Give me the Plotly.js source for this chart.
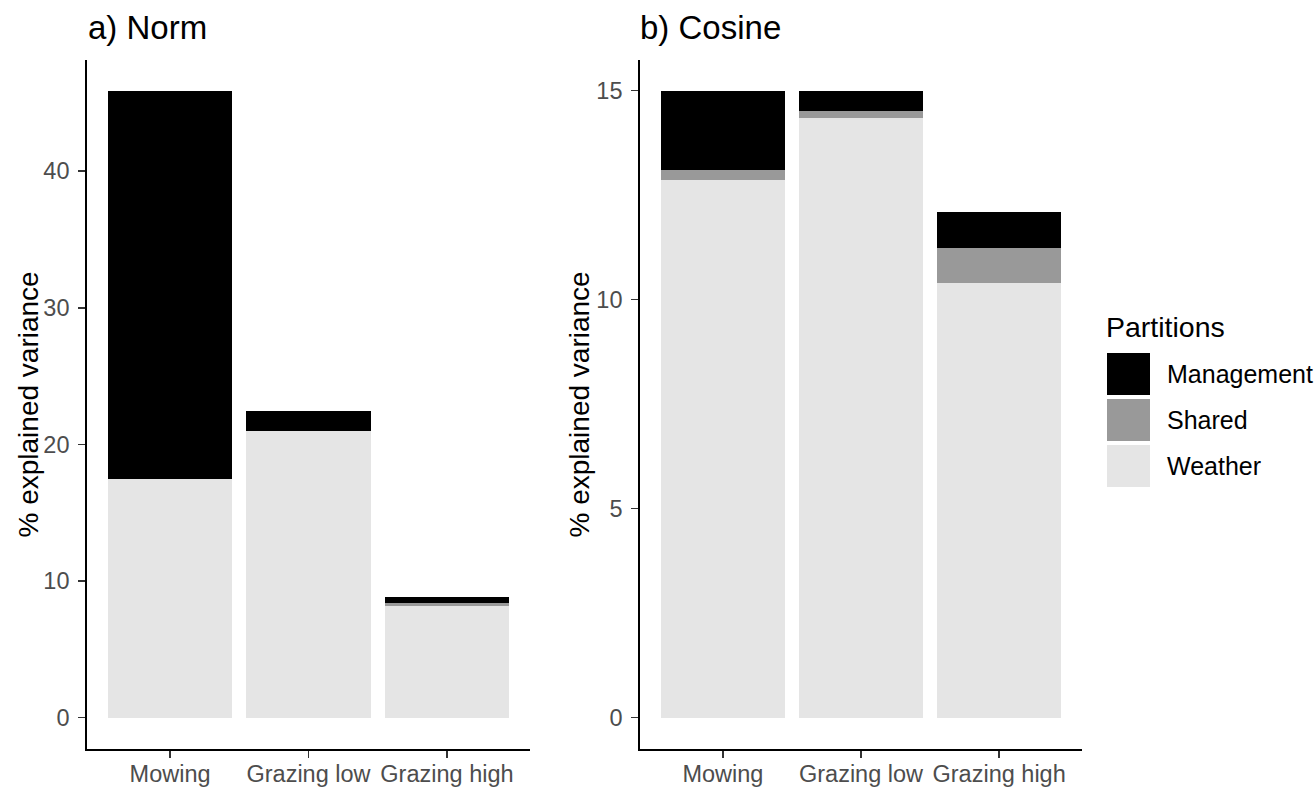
<!DOCTYPE html>
<html>
<head>
<meta charset="utf-8">
<script src="https://cdn.plot.ly/plotly-3.0.1.min.js"></script>
<style>html,body{margin:0;padding:0;background:#fff;}#chart{width:1314px;height:787px;}</style>
</head>
<body>
<div id="chart"></div>
<script>
// ---- data ----
const categories = ["Mowing", "Grazing low", "Grazing high"];
const partitions = ["Management", "Shared", "Weather"];
const normWeather = [17.45, 20.95, 8.2];
const normShared = [0.0, 0.0, 0.17];
const normManagement = [28.4, 1.47, 0.44];
const cosWeather = [12.87, 14.35, 10.39];
const cosShared = [0.24, 0.15, 0.85];
const cosManagement = [1.87, 0.48, 0.86];
const panelTitles = ["a) Norm", "b) Cosine"];
const yTitle = "% explained variance";
const legendTitle = "Partitions";

// ---- styling ----
const W = 1314, H = 787;
const FONT = "Liberation Sans, Arial, sans-serif";
const colors = {Management: "#000000", Shared: "#999999", Weather: "#E5E5E5"};
const px = v => v / W;
const py = v => 1 - v / H;

function barTrace(name, y, xa, ya) {
  return {
    type: "bar", name: name, x: categories, y: y, xaxis: xa, yaxis: ya,
    width: 0.9, showlegend: false,
    marker: {color: colors[name], line: {width: 0}},
    hoverinfo: "x+y+name"
  };
}

const traces = [
  barTrace("Weather", normWeather, "x", "y"),
  barTrace("Shared", normShared, "x", "y"),
  barTrace("Management", normManagement, "x", "y"),
  barTrace("Weather", cosWeather, "x2", "y2"),
  barTrace("Shared", cosShared, "x2", "y2"),
  barTrace("Management", cosManagement, "x2", "y2")
];

function totals(a, b, c) { return a.map((v, i) => v + b[i] + c[i]); }
const maxA = Math.max(...totals(normWeather, normShared, normManagement));
const maxB = Math.max(...totals(cosWeather, cosShared, cosManagement));

const yDomain = [py(749), py(60)];

const xaxisBase = {
  type: "category", range: [-0.6, 2.6], showline: true, linecolor: "#000", linewidth: 1.8,
  ticks: "outside", ticklen: 7, tickwidth: 1.6, tickcolor: "#333",
  ticklabelstandoff: -4,
  tickfont: {family: FONT, size: 23.5, color: "#4D4D4D"}, showgrid: false, zeroline: false,
  fixedrange: true
};
const yaxisBase = {
  showline: true, linecolor: "#000", linewidth: 1.8,
  ticks: "outside", ticklen: 7, tickwidth: 1.6, tickcolor: "#333",
  tickfont: {family: FONT, size: 23.5, color: "#4D4D4D"}, showgrid: false, zeroline: false,
  ticklabelstandoff: 4,
  domain: yDomain
};

const layout = {
  width: W, height: H,
  margin: {l: 0, r: 0, t: 0, b: 0},
  paper_bgcolor: "#fff", plot_bgcolor: "#fff",
  barmode: "stack", bargap: 0,
  showlegend: false,
  xaxis: Object.assign({}, xaxisBase, {domain: [px(87), px(530)], anchor: "y"}),
  yaxis: Object.assign({}, yaxisBase, {range: [-0.05 * maxA, 1.05 * maxA], dtick: 10, tick0: 0, anchor: "x"}),
  xaxis2: Object.assign({}, xaxisBase, {domain: [px(640), px(1082)], anchor: "y2"}),
  yaxis2: Object.assign({}, yaxisBase, {range: [-0.05 * maxB, 1.05 * maxB], dtick: 5, tick0: 0, anchor: "x2"}),
  annotations: [],
  shapes: []
};

// panel titles
[[panelTitles[0], 86], [panelTitles[1], 638]].forEach(([t, x]) => {
  layout.annotations.push({
    text: t, xref: "paper", yref: "paper", x: px(x), y: py(27), xanchor: "left", yanchor: "middle",
    showarrow: false, font: {family: FONT, size: 33, color: "#000"}
  });
});

// y-axis titles
[28, 579].forEach(x => {
  layout.annotations.push({
    text: yTitle, xref: "paper", yref: "paper", x: px(x), y: (yDomain[0] + yDomain[1]) / 2,
    xanchor: "center", yanchor: "middle", textangle: -90,
    showarrow: false, font: {family: FONT, size: 28, color: "#000"}
  });
});

// legend (drawn manually to match large keys)
layout.annotations.push({
  text: legendTitle, xref: "paper", yref: "paper", x: px(1104), y: py(327), xanchor: "left", yanchor: "middle",
  showarrow: false, font: {family: FONT, size: 28.5, color: "#000"}
});
partitions.forEach((p, i) => {
  const top = 353 + i * 46;
  layout.shapes.push({
    type: "rect", xref: "paper", yref: "paper",
    x0: px(1107), x1: px(1150), y0: py(top + 42), y1: py(top),
    fillcolor: colors[p], line: {width: 0}
  });
  layout.annotations.push({
    text: p, xref: "paper", yref: "paper", x: px(1165), y: py(top + 21), xanchor: "left", yanchor: "middle",
    showarrow: false, font: {family: FONT, size: 25, color: "#000"}
  });
});

Plotly.newPlot("chart", traces, layout, {displayModeBar: false, staticPlot: true});
</script>
</body>
</html>
